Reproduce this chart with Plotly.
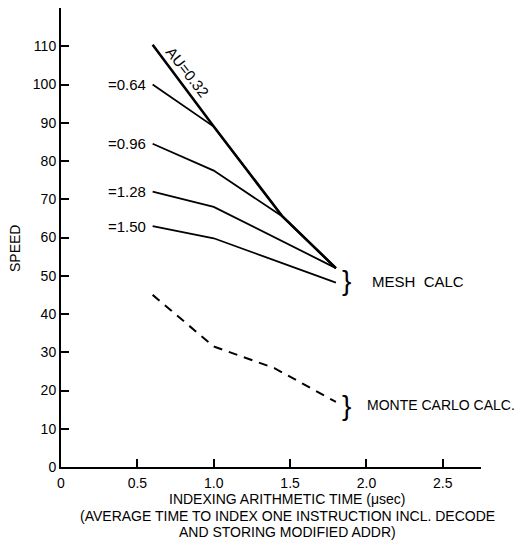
import plotly.graph_objects as go

# Data
x_pts = [0.6, 1.0, 1.45, 1.8]
au_032 = [110.4, 89.0, 65.5, 52.0]
au_064 = [100.0, 89.0, 65.5, 52.0]
au_096 = [84.5, 77.5, 65.5, 52.0]
x_short = [0.6, 1.0, 1.8]
au_128 = [72.0, 68.0, 52.0]
au_150 = [63.0, 59.8, 48.2]
mc_x = [0.6, 1.0, 1.4, 1.8]
mc_y = [45.0, 31.5, 25.8, 17.0]

x_ticks = [0, 0.5, 1.0, 1.5, 2.0, 2.5]
x_tick_text = ["0", "0.5", "1.0", "1.5", "2.0", "2.5"]
y_ticks = list(range(0, 111, 10))

series_labels = ["=0.64", "=0.96", "=1.28", "=1.50"]
x_title_lines = ["INDEXING ARITHMETIC TIME (μsec)",
                 "(AVERAGE TIME TO INDEX ONE INSTRUCTION INCL. DECODE",
                 "AND STORING MODIFIED ADDR)"]

FONT = "Liberation Sans"
BLACK = "#000000"

fig = go.Figure()
fig.add_trace(go.Scatter(x=x_pts, y=au_032, mode="lines", line=dict(color=BLACK, width=2.6)))
fig.add_trace(go.Scatter(x=x_pts, y=au_064, mode="lines", line=dict(color=BLACK, width=1.8)))
fig.add_trace(go.Scatter(x=x_pts, y=au_096, mode="lines", line=dict(color=BLACK, width=1.8)))
fig.add_trace(go.Scatter(x=x_short, y=au_128, mode="lines", line=dict(color=BLACK, width=1.8)))
fig.add_trace(go.Scatter(x=x_short, y=au_150, mode="lines", line=dict(color=BLACK, width=1.8)))
fig.add_trace(go.Scatter(x=mc_x, y=mc_y, mode="lines",
                         line=dict(color=BLACK, width=2, dash="9px,7px")))

ann = []
for val, txt in zip([au_064[0], au_096[0], au_128[0], au_150[0]], series_labels):
    ann.append(dict(x=0.569, y=val, text=txt, xanchor="right", yanchor="middle", showarrow=False,
                    font=dict(family=FONT, size=15, color=BLACK)))
ann.append(dict(x=0.825, y=103.3, text="AU=0.32", textangle=52, showarrow=False,
                font=dict(family=FONT, size=15, color=BLACK)))
# braces and group labels
ann.append(dict(x=1.872, y=48.8, text="}", showarrow=False, xanchor="center", yanchor="middle",
                font=dict(family=FONT, size=28, color=BLACK)))
ann.append(dict(x=2.022, y=48.5, text="MESH  CALC", showarrow=False, xanchor="left", yanchor="middle",
                font=dict(family=FONT, size=15, color=BLACK)))
ann.append(dict(x=1.872, y=16.2, text="}", showarrow=False, xanchor="center", yanchor="middle",
                font=dict(family=FONT, size=28, color=BLACK)))
ann.append(dict(x=1.99, y=16.2, text="MONTE CARLO CALC.", showarrow=False, xanchor="left", yanchor="middle",
                font=dict(family=FONT, size=14, color=BLACK)))
# axis titles
ann.append(dict(xref="paper", yref="paper", x=-0.1095, y=0.475, text="SPEED", textangle=-90,
                showarrow=False, xanchor="center", yanchor="middle",
                font=dict(family=FONT, size=14, color=BLACK)))
for yy, line in zip([-0.0697, -0.1057, -0.1416], x_title_lines):
    ann.append(dict(xref="paper", yref="paper", x=0.54, y=yy, text=line, showarrow=False,
                    xanchor="center", yanchor="middle",
                    font=dict(family=FONT, size=14, color=BLACK)))

fig.update_layout(
    width=515, height=532,
    margin=dict(l=53, r=42, t=0, b=73),
    paper_bgcolor="white", plot_bgcolor="white",
    showlegend=False,
    annotations=ann,
    xaxis=dict(range=[0, 2.75], tickvals=x_ticks, ticktext=x_tick_text, automargin=False,
               ticks="inside", ticklen=8, tickwidth=2, tickcolor=BLACK,
               showline=True, linecolor=BLACK, linewidth=2, showgrid=False, zeroline=False,
               ticklabelstandoff=2,
               tickfont=dict(family=FONT, size=14, color=BLACK)),
    yaxis=dict(range=[0, 120], tickvals=y_ticks, automargin=False,
               ticks="inside", ticklen=8, tickwidth=2, tickcolor=BLACK,
               showline=True, linecolor=BLACK, linewidth=2, showgrid=False, zeroline=False,
               tickfont=dict(family=FONT, size=14, color=BLACK)),
)

fig.write_html("out.html")
